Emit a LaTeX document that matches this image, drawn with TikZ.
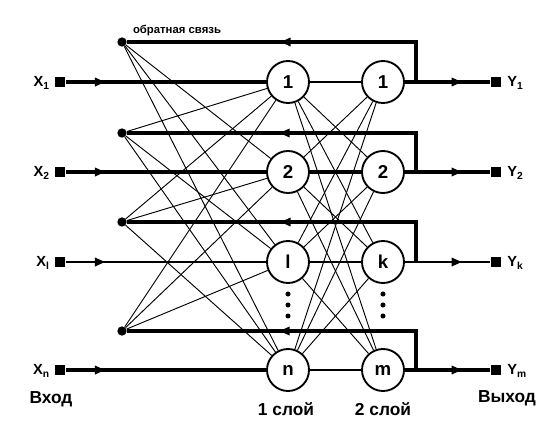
\documentclass[tikz,border=0pt]{standalone}
\usepackage{fontspec}
\setmainfont{Liberation Sans}
\usetikzlibrary{decorations.markings}
\begin{document}
\begin{tikzpicture}[x=0.75pt,y=-0.75pt,
 neuron/.style={circle,draw,line width=1.4pt,minimum size=31.5pt,inner sep=0pt,font=\bfseries\fontsize{14}{14}\selectfont},
 fbdot/.style={circle,fill,minimum size=7pt,inner sep=0pt},
 term/.style={rectangle,fill,minimum size=8pt,inner sep=0pt},
 elldot/.style={circle,fill,minimum size=3.8pt,inner sep=0pt},
 lbl/.style={font=\bfseries\fontsize{11}{11}\selectfont,inner sep=0pt},
 captext/.style={font=\bfseries\fontsize{13}{13}\selectfont,inner sep=0pt},
 thickline/.style={line width=2.3pt},
 thinline/.style={line width=0.8pt},
 meshline/.style={line width=0.7pt},
 arrowat/.style={postaction={decorate,decoration={markings,mark=at position #1 with {\fill[x=1pt,y=1pt] (2.5pt,0pt) -- (-5pt,3.4pt) -- (-5pt,-3.4pt) -- cycle;}}}},
]
\useasboundingbox (0,0) rectangle (542,433);

% input terminals
\node[term] (x1) at (60,82) {};
\node[term] (x2) at (60,172) {};
\node[term] (xi) at (60,262) {};
\node[term] (xn) at (60,370) {};
\node[lbl,anchor=east] (lx1) at (50,83) {X\textsubscript{1}};
\node[lbl,anchor=east] (lx2) at (50,173) {X\textsubscript{2}};
\node[lbl,anchor=east] (lxi) at (50,263) {X\textsubscript{l}};
\node[lbl,anchor=east] (lxn) at (50,371) {X\textsubscript{n}};

% output terminals
\node[term] (y1) at (496,82) {};
\node[term] (y2) at (496,172) {};
\node[term] (yk) at (496,262) {};
\node[term] (ym) at (496,370) {};
\node[lbl,anchor=west] (ly1) at (507,83) {Y\textsubscript{1}};
\node[lbl,anchor=west] (ly2) at (507,173) {Y\textsubscript{2}};
\node[lbl,anchor=west] (lyk) at (507,263) {Y\textsubscript{k}};
\node[lbl,anchor=west] (lym) at (507,371) {Y\textsubscript{m}};

% feedback dots
\node[fbdot] (d1) at (122,42) {};
\node[fbdot] (d2) at (122,133) {};
\node[fbdot] (d3) at (122,222) {};
\node[fbdot] (d4) at (122,331) {};

% neurons
\node[neuron] (a1) at (288,82) {1};
\node[neuron] (a2) at (288,172) {2};
\node[neuron] (a3) at (288,262) {l};
\node[neuron] (a4) at (288,370) {n};
\node[neuron] (b1) at (383,82) {1};
\node[neuron] (b2) at (383,172) {2};
\node[neuron] (b3) at (383,262) {k};
\node[neuron] (b4) at (383,370) {m};

% ellipsis dots
\foreach \yy [count=\i] in {294,305,316} {
  \node[elldot] (ea\i) at (288,\yy) {};
  \node[elldot] (eb\i) at (383,\yy) {};
}

% feedback corner points on output lines
\coordinate (f1) at (416,82);
\coordinate (f2) at (416,172);
\coordinate (f3) at (416,262);
\coordinate (f4) at (416,370);

% input lines
\draw[thickline,arrowat=27pt] (x1) -- (a1);
\draw[thickline,arrowat=27pt] (x2) -- (a2);
\draw[thinline,arrowat=27pt] (xi) -- (a3);
\draw[thickline,arrowat=27pt] (xn) -- (a4);

% output lines
\draw[thickline,arrowat=40pt] (b1) -- (y1);
\draw[thickline,arrowat=40pt] (b2) -- (y2);
\draw[thinline,arrowat=40pt] (b3) -- (yk);
\draw[thickline,arrowat=40pt] (b4) -- (ym);

% feedback lines
\foreach \i in {1,2,3,4} {
  \draw[thickline,arrowat=129pt] (f\i) |- (d\i);
}

% feedback dots to layer 1 (every neuron except the one of its own row)
\foreach \i in {1,2,3,4} {
  \foreach \j in {1,2,3,4} {
    \ifnum\i=\j\else
      \draw[meshline] (d\i) -- (a\j);
    \fi
  }
}

% layer 1 to layer 2
\foreach \i in {1,2,3,4} {
  \foreach \j in {1,2,3,4} {
    \ifnum\i=\j\else
      \draw[meshline] (a\i) -- (b\j);
    \fi
  }
}
\draw[thinline] (a1) -- (b1);
\draw[thickline] (a2) -- (b2);
\draw[thinline] (a3) -- (b3);
\draw[thinline] (a4) -- (b4);

% captions
\node[font=\bfseries\fontsize{8.5}{8.5}\selectfont,inner sep=0pt] (fbt) at (177,31) {обратная связь};
\node[captext] (inp) at (51,399) {Вход};
\node[captext] (out) at (507,398) {Выход};
\node[captext] (l1) at (286,409) {1 слой};
\node[captext] (l2) at (383,409) {2 слой};
\end{tikzpicture}
\end{document}
